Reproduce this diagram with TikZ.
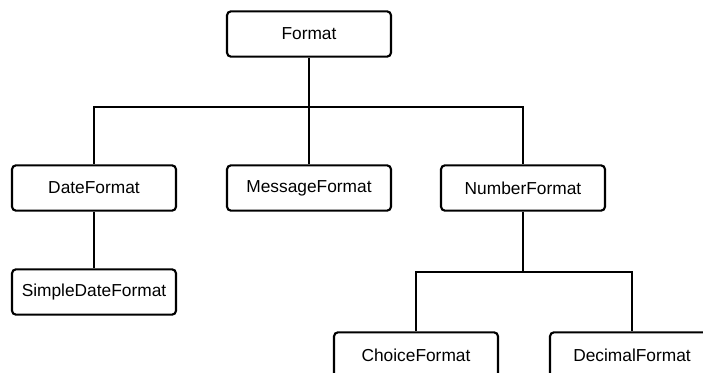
\documentclass[tikz,border=0pt]{standalone}
\usepackage{fontspec}
\setmainfont{Liberation Sans}
\begin{document}
\begin{tikzpicture}[x=0.75pt,y=-0.75pt,line width=1.6pt,
	cls/.style={draw,rounded corners=3pt,minimum width=123pt,minimum height=34pt,inner sep=0pt,font=\fontsize{13}{15}\selectfont}]
	\useasboundingbox (0,0) rectangle (703,372);
	% classes
	\node[cls] (format) at (309,34) {Format};
	\node[cls] (date) at (94,188) {DateFormat};
	\node[cls] (message) at (309,188) {MessageFormat};
	\node[cls] (number) at (523,188) {NumberFormat};
	\node[cls] (simple) at (94,292) {SimpleDateFormat};
	\node[cls] (choice) at (416,355) {ChoiceFormat};
	\node[cls] (decimal) at (632,355) {DecimalFormat};
	% tree lines
	\coordinate (top) at (309,107);
	\coordinate (bottom) at (523,272);
	\draw (format.south) -- (top);
	\draw (top) -| (date.north);
	\draw (top) -| (number.north);
	\draw (top) -- (message.north);
	\draw (date.south) -- (simple.north);
	\draw (number.south) -- (bottom);
	\draw (bottom) -| (choice.north);
	\draw (bottom) -| (decimal.north);
\end{tikzpicture}
\end{document}
